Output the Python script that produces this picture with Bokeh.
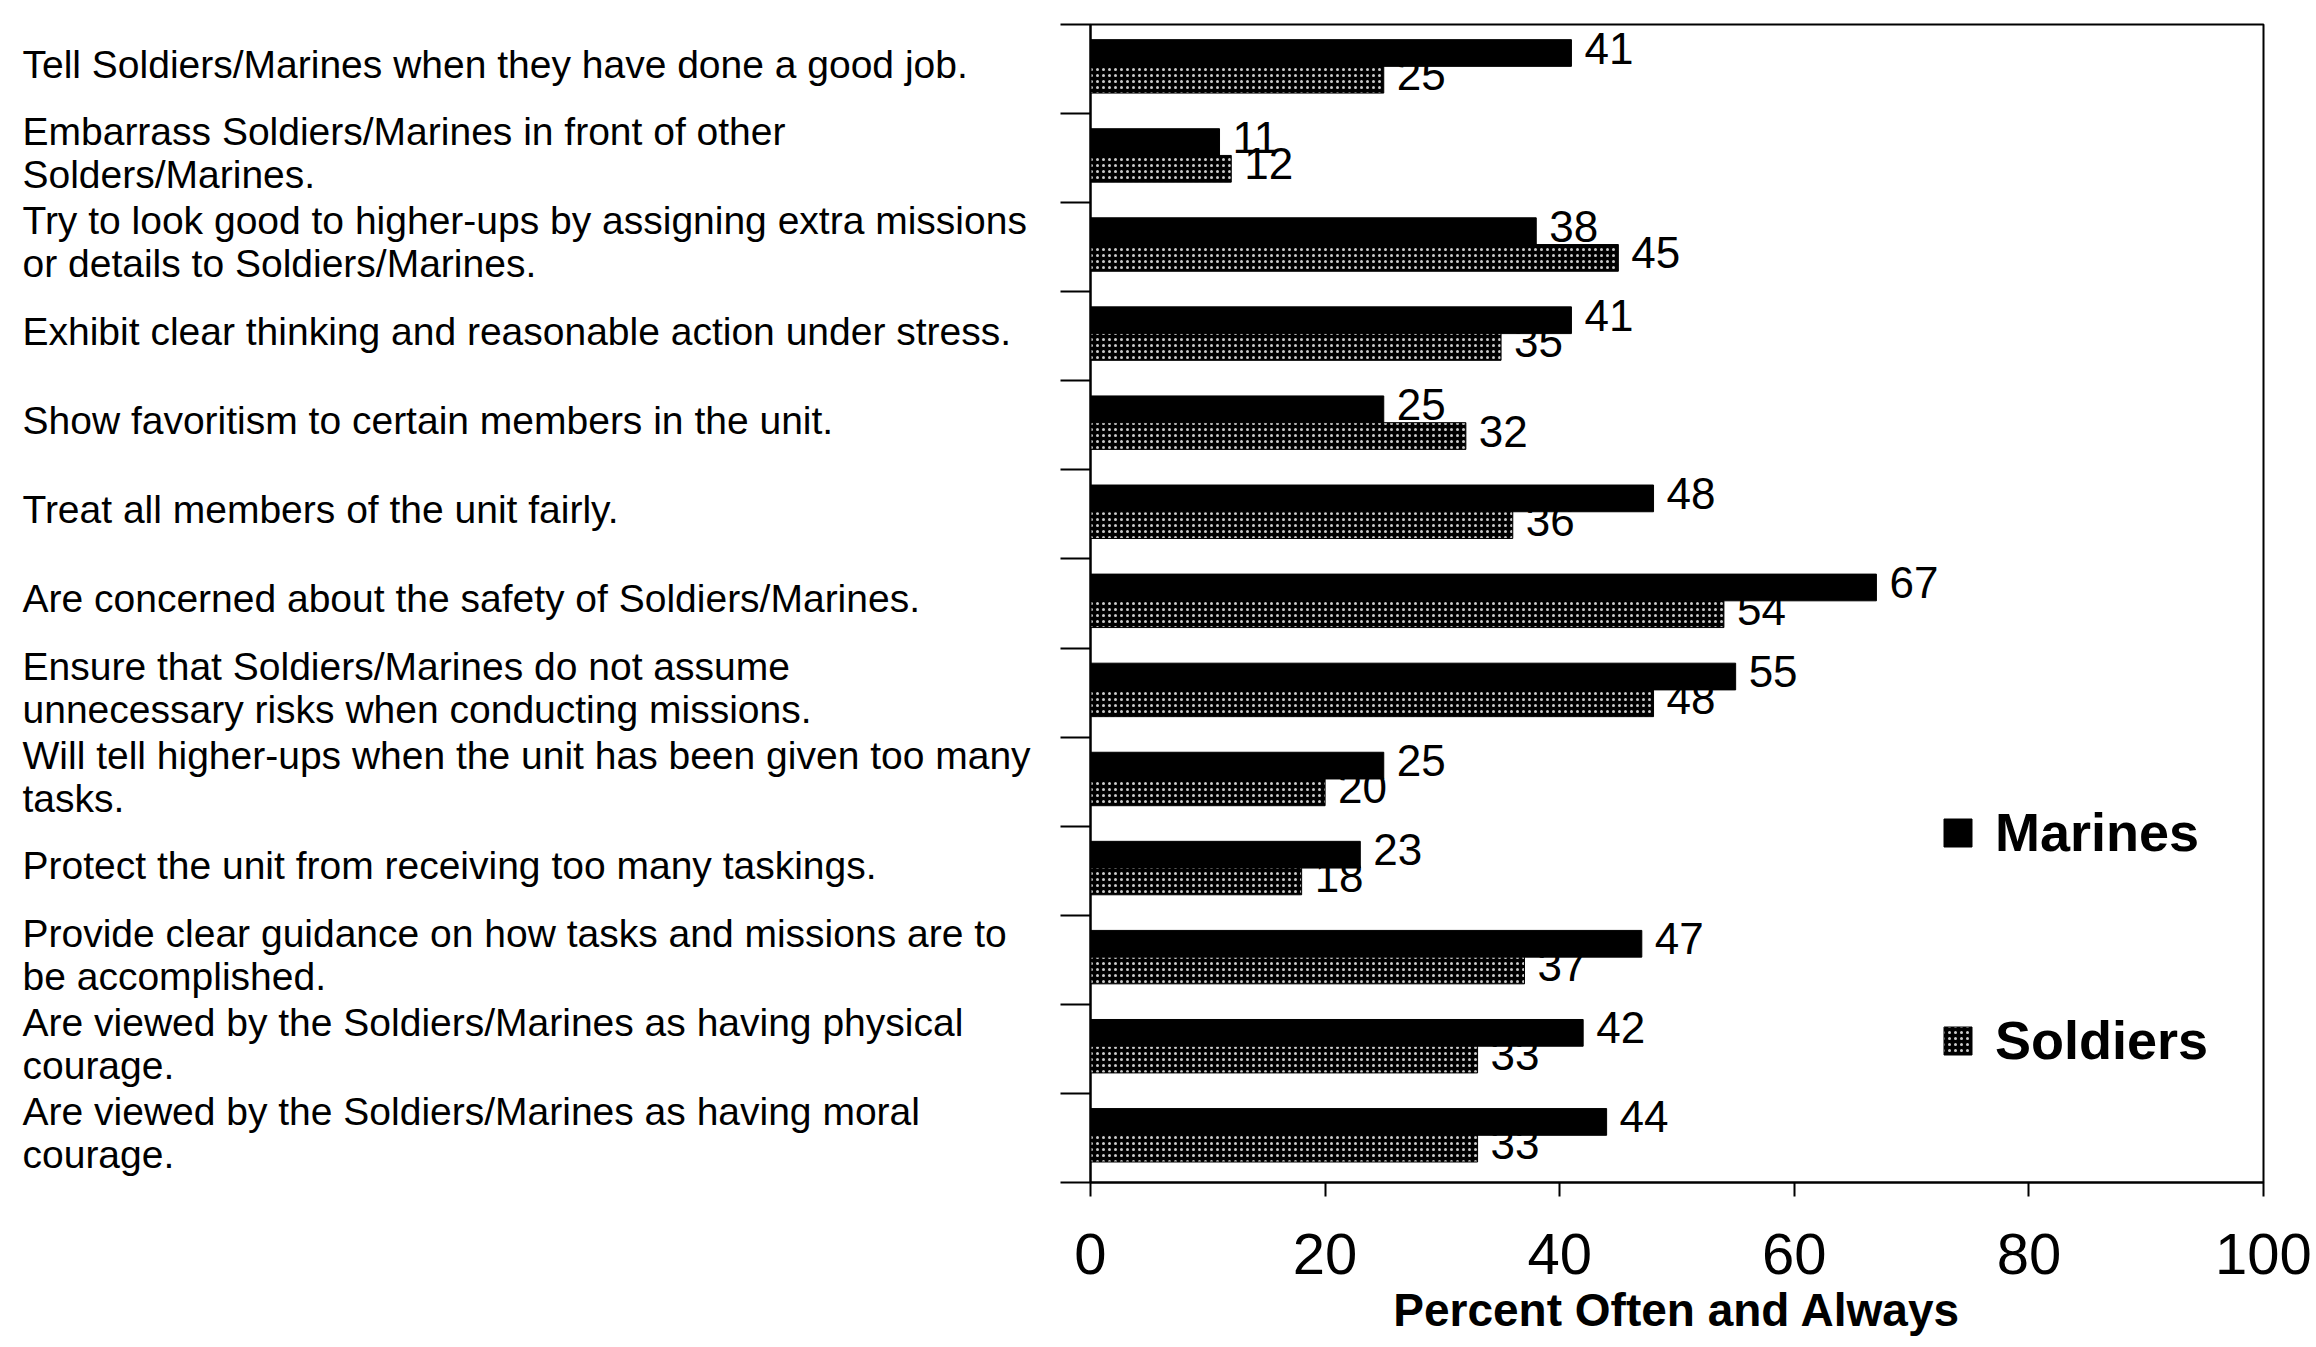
import numpy as np
from bokeh.plotting import figure
from bokeh.layouts import row
from bokeh.models import (ColumnDataSource, Range1d, FixedTicker,
                          Legend, LegendItem)
from bokeh.transform import dodge
from bokeh.core.properties import value
from bokeh.embed import file_html
from bokeh.resources import INLINE

# ---------------- data ----------------
categories = [
    "Tell Soldiers/Marines when they have done a good job.",
    "Embarrass Soldiers/Marines in front of other\nSolders/Marines.",
    "Try to look good to higher-ups by assigning extra missions\nor details to Soldiers/Marines.",
    "Exhibit clear thinking and reasonable action under stress.",
    "Show favoritism to certain members in the unit.",
    "Treat all members of the unit fairly.",
    "Are concerned about the safety of Soldiers/Marines.",
    "Ensure that Soldiers/Marines do not assume\nunnecessary risks when conducting missions.",
    "Will tell higher-ups when the unit has been given too many\ntasks.",
    "Protect the unit from receiving too many taskings.",
    "Provide clear guidance on how tasks and missions are to\nbe accomplished.",
    "Are viewed by the Soldiers/Marines as having physical\ncourage.",
    "Are viewed by the Soldiers/Marines as having moral\ncourage.",
]
marines = [41, 11, 38, 41, 25, 48, 67, 55, 25, 23, 47, 42, 44]
soldiers = [25, 12, 45, 35, 32, 36, 54, 48, 20, 18, 37, 33, 33]
series_names = ["Marines", "Soldiers"]
x_ticks = [0, 20, 40, 60, 80, 100]
x_title = "Percent Often and Always"

# ---------------- layout constants (px) ----------------
W, H = 2316, 1347
FL, FR, FT, FB = 1090, 2263, 24, 1182     # plot frame edges
WL = 1040                                 # width of the label panel
LABEL_LEFT = 22                           # left edge of category texts
LABEL_RAISE = 5                           # category texts sit a bit high
XMIN, XMAX = 0, 100

n = len(categories)
cat_px = (FB - FT) / n
src = ColumnDataSource(dict(
    y=np.arange(n) + 0.5,
    marines=marines,
    soldiers=soldiers,
    m_txt=[str(v) for v in marines],
    s_txt=[str(v) for v in soldiers],
))

# ---------------- main chart ----------------
p = figure(width=W - WL, height=H, x_range=Range1d(XMIN, XMAX), y_range=Range1d(n, 0),
           output_backend="svg", toolbar_location=None,
           min_border_left=FL - WL, min_border_right=W - FR,
           min_border_top=FT, min_border_bottom=H - FB)
p.background_fill_color = "white"
p.border_fill_color = "white"
p.outline_line_color = "black"
p.outline_line_width = 2
p.xgrid.grid_line_color = None
p.ygrid.grid_line_color = None

num_font = value("Liberation Sans")
m_y = dodge("y", -0.18, range=p.y_range)
s_y = dodge("y", 0.12, range=p.y_range)

# soldiers value labels first (drawn beneath the Marines bars)
p.text(x="soldiers", y=s_y, text="s_txt", source=src, x_offset=13, y_offset=-5,
       text_font=num_font, text_font_size="44px", text_color="black",
       text_align="left", text_baseline="middle")

rm = p.hbar(y=m_y, left=0, right="marines", height=0.3, source=src,
            fill_color="black", line_color="black", line_width=1)
rs = p.hbar(y=s_y, left=0, right="soldiers", height=0.3, source=src,
            fill_color="black", line_color="black", line_width=1,
            hatch_pattern="dot", hatch_color="white", hatch_scale=6,
            hatch_weight=0.5, hatch_alpha=0.8)

p.text(x="marines", y=m_y, text="m_txt", source=src, x_offset=13, y_offset=-5,
       text_font=num_font, text_font_size="44px", text_color="black",
       text_align="left", text_baseline="middle")

# x axis
p.xaxis.ticker = FixedTicker(ticks=x_ticks)
p.xaxis.major_label_text_font = "Liberation Sans"
p.xaxis.major_label_text_font_size = "58px"
p.xaxis.major_label_text_color = "black"
p.xaxis.major_label_standoff = 37
p.xaxis.major_tick_out = 14
p.xaxis.major_tick_in = 0
p.xaxis.major_tick_line_width = 2
p.xaxis.minor_tick_line_color = None
p.xaxis.axis_line_width = 2
p.xaxis.axis_label = x_title
p.xaxis.axis_label_text_font = "Liberation Sans"
p.xaxis.axis_label_text_font_style = "bold"
p.xaxis.axis_label_text_font_size = "46px"
p.xaxis.axis_label_text_color = "black"
p.xaxis.axis_label_standoff = 7

# y axis: boundary ticks only
p.yaxis.ticker = FixedTicker(ticks=list(range(n + 1)), minor_ticks=[])
p.yaxis.major_label_overrides = {i: "" for i in range(n + 1)}
p.yaxis.major_tick_out = 30
p.yaxis.major_tick_in = 0
p.yaxis.major_tick_line_width = 2
p.yaxis.minor_tick_line_color = None
p.yaxis.axis_line_width = 2

legend = Legend(items=[LegendItem(label=series_names[0], renderers=[rm]),
                       LegendItem(label=series_names[1], renderers=[rs])],
                location=(850, 110), orientation="vertical",
                glyph_width=35, glyph_height=35, label_standoff=20,
                label_text_font="Liberation Sans", label_text_font_style="bold",
                label_text_font_size="54px", label_text_color="black",
                label_height=64, spacing=144, padding=0, margin=0,
                border_line_color=None, background_fill_alpha=0)
p.add_layout(legend)

# ---------------- category label panel (texts on a right-hand axis) ----------------
label_ticks = [i + 0.5 - LABEL_RAISE / cat_px for i in range(n)]
left = figure(width=WL, height=H, x_range=Range1d(0, 1), y_range=p.y_range,
              x_axis_type=None, y_axis_location="right",
              output_backend="svg", toolbar_location=None,
              min_border_left=0, min_border_right=WL - LABEL_LEFT + 8,
              min_border_top=FT, min_border_bottom=H - FB)
left.outline_line_color = None
left.xgrid.grid_line_color = None
left.ygrid.grid_line_color = None
left.background_fill_color = "white"
left.border_fill_color = "white"
ya = left.yaxis[0]
ya.ticker = FixedTicker(ticks=label_ticks, minor_ticks=[])
ya.major_label_overrides = dict(zip(label_ticks, categories))
ya.axis_line_color = None
ya.major_tick_line_color = None
ya.minor_tick_line_color = None
ya.major_tick_out = 0
ya.major_tick_in = 0
ya.major_label_standoff = 8
ya.major_label_text_align = "left"
ya.major_label_text_font = "Liberation Sans"
ya.major_label_text_font_size = "39px"
ya.major_label_text_line_height = 1.0
ya.major_label_text_color = "black"

layout = row(left, p, spacing=0)
open("out.html", "w").write(file_html(layout, INLINE))
